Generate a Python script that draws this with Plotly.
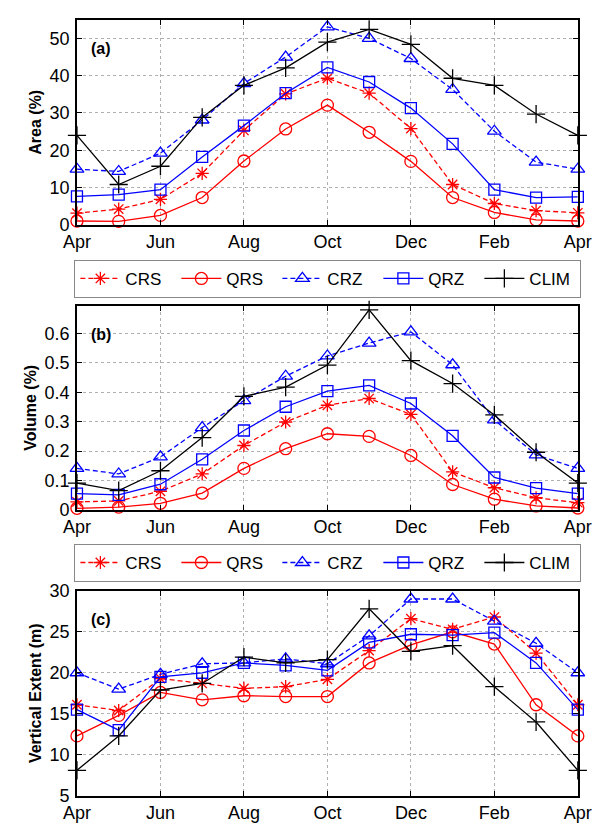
import plotly.graph_objects as go

months = ["Apr", "May", "Jun", "Jul", "Aug", "Sep", "Oct", "Nov", "Dec", "Jan", "Feb", "Mar", "Apr"]
x_idx = list(range(13))
tick_vals = [0, 2, 4, 6, 8, 10, 12]
tick_text = ["Apr", "Jun", "Aug", "Oct", "Dec", "Feb", "Apr"]

# Panel (a) Area (%)
area_crs = [3.1, 4.2, 6.8, 13.8, 25.3, 35.1, 39.3, 35.3, 25.8, 10.8, 5.7, 3.8, 3.2]
area_qrs = [1.0, 0.9, 2.5, 7.3, 17.1, 25.7, 32.1, 24.8, 17.0, 7.3, 3.3, 1.3, 1.0]
area_crz = [14.9, 14.3, 19.2, 28.1, 37.9, 45.0, 53.1, 50.0, 44.6, 36.3, 25.1, 16.8, 14.9]
area_qrz = [7.6, 8.1, 9.4, 18.2, 26.6, 35.3, 42.2, 38.3, 31.3, 21.7, 9.4, 7.3, 7.5]
area_clim = [24.0, 10.8, 15.7, 28.8, 37.4, 42.1, 49.0, 52.4, 48.4, 39.3, 37.4, 29.7, 24.0]

# Panel (b) Volume (%)
vol_crs = [0.027, 0.030, 0.063, 0.122, 0.219, 0.299, 0.356, 0.379, 0.325, 0.129, 0.075, 0.041, 0.024]
vol_qrs = [0.005, 0.009, 0.022, 0.057, 0.141, 0.208, 0.259, 0.250, 0.185, 0.086, 0.036, 0.013, 0.006]
vol_crz = [0.141, 0.122, 0.180, 0.280, 0.372, 0.455, 0.524, 0.568, 0.606, 0.494, 0.306, 0.187, 0.141]
vol_qrz = [0.055, 0.051, 0.087, 0.172, 0.270, 0.351, 0.404, 0.424, 0.362, 0.252, 0.110, 0.074, 0.055]
vol_clim = [0.091, 0.065, 0.133, 0.246, 0.386, 0.418, 0.493, 0.681, 0.508, 0.430, 0.323, 0.196, 0.091]

# Panel (c) Vertical Extent (m)
ve_crs = [16.1, 15.4, 19.3, 18.7, 18.1, 18.3, 19.2, 22.7, 26.6, 25.3, 26.8, 22.4, 16.1]
ve_qrs = [12.3, 14.8, 17.6, 16.7, 17.2, 17.1, 17.1, 21.2, 23.4, 25.0, 23.5, 16.1, 12.3]
ve_crz = [20.0, 18.0, 19.8, 21.1, 21.2, 21.7, 21.1, 24.5, 29.0, 29.0, 26.3, 23.6, 20.0]
ve_qrz = [15.5, 13.0, 19.5, 20.0, 21.2, 20.9, 20.3, 23.7, 24.7, 24.6, 24.9, 21.2, 15.5]
ve_clim = [8.1, 12.3, 17.9, 18.7, 21.9, 21.2, 21.6, 27.8, 22.6, 23.3, 18.3, 14.0, 8.1]

names = ["CRS", "QRS", "CRZ", "QRZ", "CLIM"]
colors = ["#ff0000", "#ff0000", "#0000ff", "#0000ff", "#000000"]
dashes = ["5px,3px", "solid", "5px,3px", "solid", "solid"]
symbols = ["asterisk-open", "circle-open", "triangle-up-open", "square-open", "cross-thin-open"]
msizes = [11, 12, 12, 11, 13]

panels = [
    ([area_crs, area_qrs, area_crz, area_qrz, area_clim], "x", "y", "legend"),
    ([vol_crs, vol_qrs, vol_crz, vol_qrz, vol_clim], "x2", "y2", "legend2"),
    ([ve_crs, ve_qrs, ve_crz, ve_qrz, ve_clim], "x3", "y3", None),
]

fig = go.Figure()
for series, xa, ya, leg in panels:
    for name, col, d, sym, ms, ys in zip(names, colors, dashes, symbols, msizes, series):
        fig.add_trace(go.Scatter(
            x=x_idx, y=ys, name=name, mode="lines+markers",
            xaxis=xa, yaxis=ya,
            line=dict(color=col, width=1.3, dash=d),
            marker=dict(symbol=sym, size=ms, color=col, line=dict(color=col, width=1.3)),
            cliponaxis=False,
            showlegend=leg is not None,
            legend=leg if leg else "legend",
        ))

W, H = 609, 837
xdom = [66 / W, 591 / W]

def ydom(top, bot):
    return [1 - bot / H, 1 - top / H]

FAM = "Liberation Sans, Arial, sans-serif"
tickfont = dict(family=FAM, size=18, color="black")
titlefont = dict(family=FAM, size=16, color="black", weight="bold")

def xaxis_cfg(anchor):
    return dict(domain=xdom, anchor=anchor, range=[0, 12], tickvals=tick_vals, ticktext=tick_text,
                showline=True, linecolor="black", linewidth=1.5, mirror="ticks",
                ticks="inside", ticklen=5, tickcolor="black",
                showgrid=True, gridcolor="#b0b0b0", griddash="dot", gridwidth=1,
                zeroline=False, tickfont=tickfont, ticklabelstandoff=0)

def yaxis_cfg(anchor, dom, rng, dtick, title):
    return dict(domain=dom, anchor=anchor, range=rng, dtick=dtick,
                showline=True, linecolor="black", linewidth=1.5, mirror="ticks",
                ticks="inside", ticklen=5, tickcolor="black",
                showgrid=True, gridcolor="#b0b0b0", griddash="dot", gridwidth=1,
                zeroline=False, tickfont=tickfont, ticklabelstandoff=2,
                title=dict(text=title, font=titlefont, standoff=4))

legfont = dict(family=FAM, size=17, color="black")

fig.update_layout(
    width=W, height=H, margin=dict(l=0, r=0, t=0, b=0),
    paper_bgcolor="white", plot_bgcolor="white",
    xaxis=xaxis_cfg("y"),
    yaxis=yaxis_cfg("x", ydom(10, 220), [0, 55], 10, "Area (%)"),
    xaxis2=xaxis_cfg("y2"),
    yaxis2=yaxis_cfg("x2", ydom(303, 512), [0, 0.695], 0.1, "Volume (%)"),
    xaxis3=xaxis_cfg("y3"),
    yaxis3=yaxis_cfg("x3", ydom(595, 805), [5, 30], 5, "Vertical Extent (m)"),
    legend=dict(orientation="h", x=329 / W, xanchor="center", y=1 - 256 / H, yanchor="top",
                bordercolor="#888888", borderwidth=1, bgcolor="white", font=legfont,
                itemwidth=40, tracegroupgap=0, entrywidth=46),
    legend2=dict(orientation="h", x=329 / W, xanchor="center", y=1 - 547 / H, yanchor="top",
                 bordercolor="#888888", borderwidth=1, bgcolor="white", font=legfont,
                 itemwidth=40, tracegroupgap=0, entrywidth=46),
)

for lab, xr, yr in [("(a)", "x domain", "y domain"), ("(b)", "x2 domain", "y2 domain"), ("(c)", "x3 domain", "y3 domain")]:
    fig.add_annotation(text="<b>" + lab + "</b>", xref=xr, yref=yr, x=0.025, y=0.86,
                       xanchor="left", yanchor="middle", showarrow=False,
                       font=dict(family=FAM, size=16, color="black"))

fig.write_html("out.html")
